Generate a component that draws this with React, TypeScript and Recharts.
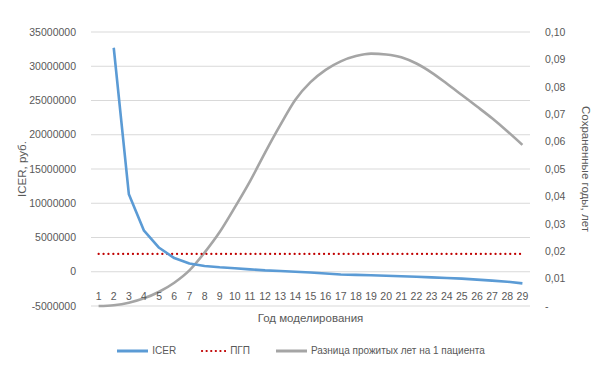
import { LineChart, Line, XAxis, YAxis, CartesianGrid, Legend, Label } from "recharts";

const years = [1, 2, 3, 4, 5, 6, 7, 8, 9, 10, 11, 12, 13, 14, 15, 16, 17, 18, 19, 20, 21, 22, 23, 24, 25, 26, 27, 28, 29];

const icer = [
  null, 32700000, 11300000, 6000000, 3500000, 2000000, 1200000, 850000, 650000, 500000,
  350000, 200000, 100000, 0, -100000, -250000, -400000, -450000, -520000, -580000,
  -650000, -720000, -820000, -920000, -1000000, -1150000, -1300000, -1450000, -1700000,
];

const wtp = years.map(() => 2600000);

const lifeYears = [
  0, 0.0003, 0.0012, 0.0028, 0.0052, 0.0085, 0.013, 0.0195, 0.027, 0.036,
  0.0455, 0.056, 0.066, 0.0753, 0.0817, 0.0862, 0.0893, 0.0912, 0.0921, 0.0918,
  0.0908, 0.0885, 0.0852, 0.0812, 0.077, 0.0728, 0.0685, 0.0638, 0.0588,
];

const leftTicks = [-5000000, 0, 5000000, 10000000, 15000000, 20000000, 25000000, 30000000, 35000000];
const rightTicks = [0, 0.01, 0.02, 0.03, 0.04, 0.05, 0.06, 0.07, 0.08, 0.09, 0.1];

const data = years.map((y, i) => ({ year: y, icer: icer[i], wtp: wtp[i], life: lifeYears[i] }));

const FONT = "'Liberation Sans', Arial, sans-serif";
const TEXT = "#595959";

const XTick = (props: any) => {
  const { x, y, payload } = props;
  return (
    <text x={x} y={y - 17} textAnchor="middle" dominantBaseline="middle" fill={TEXT} fontSize={10.5} fontFamily={FONT}>
      {payload.value}
    </text>
  );
};

const legendItems = [
  { label: "ICER", color: "#5B9BD5", dash: undefined as string | undefined, w: 33 },
  { label: "ПГП", color: "#C00000", dash: "0.1 4.5", w: 26 },
  { label: "Разница прожитых лет на 1 пациента", color: "#A5A5A5", dash: undefined, w: 33 },
];

const LegendContent = () => (
  <div style={{ display: "flex", justifyContent: "center", gap: 24, fontFamily: FONT, fontSize: 10, color: TEXT }}>
    {legendItems.map((it) => (
      <div key={it.label} style={{ display: "flex", alignItems: "center", gap: 4 }}>
        <svg width={it.w} height={6}>
          <line x1={2} y1={3} x2={it.w} y2={3} stroke={it.color} strokeWidth={it.dash ? 2.2 : 3} strokeDasharray={it.dash} strokeLinecap={it.dash ? "round" : "butt"} />
        </svg>
        <span>{it.label}</span>
      </div>
    ))}
  </div>
);

export default function App() {
  return (
    <div style={{ position: "absolute", left: 0, top: 0, background: "#fff" }}>
      <LineChart width={600} height={373} data={data} margin={{ top: 32, right: 0, left: 0, bottom: 36 }}>
        <CartesianGrid yAxisId="left" vertical={false} stroke="#d9d9d9" strokeWidth={1.2} />
        <XAxis
          dataKey="year"
          axisLine={false}
          tickLine={false}
          tick={<XTick />}
          interval={0}
          height={20}
          padding={{ left: 7.6, right: 7.6 }}
        >
          <Label value="Год моделирования" position="insideTop" offset={8} fill={TEXT} fontSize={11.5} fontFamily={FONT} />
        </XAxis>
        <YAxis
          yAxisId="left"
          width={91}
          domain={[-5000000, 35000000]}
          ticks={leftTicks}
          axisLine={false}
          tickLine={false}
          tick={{ fill: TEXT, fontSize: 10.5, fontFamily: FONT }}
          tickMargin={9}
        >
          <Label value="ICER, руб." angle={-90} position="insideLeft" offset={22} fill={TEXT} fontSize={11.5} fontFamily={FONT} style={{ textAnchor: "middle" }} />
        </YAxis>
        <YAxis
          yAxisId="right"
          orientation="right"
          width={70}
          domain={[0, 0.1]}
          ticks={rightTicks}
          axisLine={false}
          tickLine={false}
          tick={{ fill: TEXT, fontSize: 10.5, fontFamily: FONT }}
          tickMargin={9}
          tickFormatter={(v: number) => (v === 0 ? "-" : v.toFixed(2).replace(".", ","))}
        >
          <Label value="Сохраненные годы, лет" angle={90} position="insideRight" offset={14} fill={TEXT} fontSize={11.5} fontFamily={FONT} style={{ textAnchor: "middle" }} />
        </YAxis>
        <Legend content={<LegendContent />} wrapperStyle={{ position: "absolute", top: 345, left: 0, width: 600 }} />
        <Line yAxisId="right" type="monotone" dataKey="life" stroke="#A5A5A5" strokeWidth={2.6} dot={false} isAnimationActive={false} />
        <Line yAxisId="left" dataKey="wtp" stroke="#C00000" strokeWidth={2.2} strokeDasharray="0.1 4.8" strokeLinecap="round" dot={false} isAnimationActive={false} />
        <Line yAxisId="left" type="linear" dataKey="icer" stroke="#5B9BD5" strokeWidth={2.6} strokeLinejoin="round" dot={false} isAnimationActive={false} connectNulls={false} />
      </LineChart>
    </div>
  );
}
